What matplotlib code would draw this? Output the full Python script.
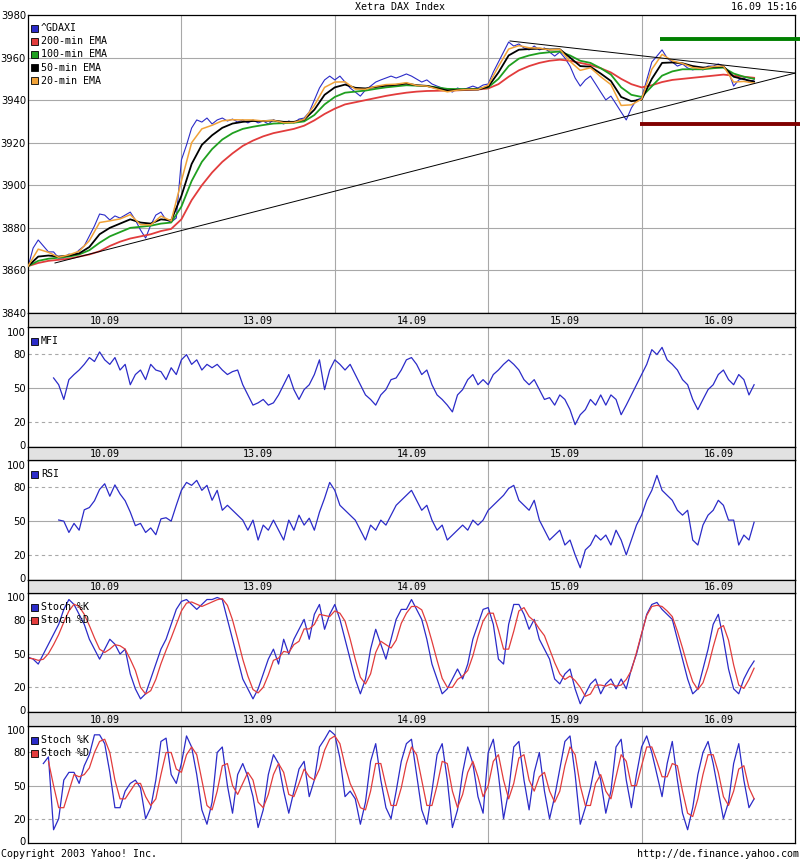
import numpy as np
import matplotlib.pyplot as plt
from matplotlib.patches import Rectangle

nan = np.nan

# —— sessions and sampling
days = ['10.09', '13.09', '14.09', '15.09', '16.09']
PER_DAY = 30        # price / oscillator samples per session
EMA_PER_DAY = 15    # EMA samples per session

# —— ^GDAXI (30 samples per session)
price = [
    3861.6, 3870.5, 3874.3, 3871.5, 3868.7, 3868.7, 3865.8, 3865.8, 3867.7, 3867.2,
    3869.6, 3871.5, 3876.2, 3880.9, 3886.5, 3886.0, 3883.7, 3885.6, 3884.6, 3886.0,
    3887.4, 3883.7, 3879.0, 3875.2, 3881.3, 3886.0, 3887.4, 3883.7, 3882.7, 3884.6,
    3911.9, 3918.9, 3926.9, 3930.7, 3929.7, 3931.6, 3928.8, 3930.7, 3931.6, 3930.2,
    3931.1, 3929.7, 3930.7, 3929.3, 3930.7, 3929.3, 3930.2, 3928.8, 3930.7, 3929.7,
    3928.8, 3930.2, 3929.3, 3931.1, 3931.6, 3934.4, 3940.1, 3945.7, 3949.5, 3951.3,
    3949.5, 3951.3, 3948.5, 3945.7, 3943.8, 3941.9, 3944.8, 3946.6, 3948.5, 3949.5,
    3950.4, 3951.3, 3950.4, 3951.3, 3952.3, 3951.3, 3949.9, 3948.5, 3949.5, 3947.6,
    3946.6, 3945.7, 3944.8, 3943.8, 3945.7, 3944.8, 3945.7, 3946.6, 3945.7, 3947.1,
    3947.6, 3953.2, 3957.9, 3962.6, 3967.3, 3965.4, 3966.4, 3964.5, 3963.6, 3965.4,
    3963.6, 3964.5, 3962.6, 3960.7, 3962.6, 3959.8, 3956.0, 3950.4, 3946.6, 3949.5,
    3951.3, 3947.6, 3943.8, 3940.1, 3941.9, 3938.2, 3934.4, 3930.7, 3936.3, 3940.1,
    3941.0, 3949.5, 3957.9, 3960.7, 3963.6, 3959.8, 3957.9, 3956.0, 3957.0, 3955.1,
    3954.2, 3955.1, 3954.2, 3956.0, 3956.0, 3957.0, 3956.0, 3953.2, 3946.6, 3949.5,
    3950.4, 3948.5, 3949.5,
]

# —— EMAs (15 samples per session)
ema200 = [
    3862, 3863.5, 3864.5, 3865, 3865.5, 3866.5, 3867.5, 3869, 3871.5, 3873.5,
    3875, 3876, 3877, 3878.5, 3879.5, 3884, 3893, 3900, 3906, 3911,
    3915, 3918.5, 3921, 3923, 3924.5, 3925.5, 3926.5, 3928, 3930.5, 3933.5,
    3936, 3938, 3939, 3940, 3941, 3942, 3942.8, 3943.5, 3944, 3944.3,
    3944.4, 3944.5, 3944.6, 3944.8, 3945, 3945.5, 3947.5, 3951, 3954, 3956,
    3957.5, 3958.5, 3959, 3958.5, 3957.5, 3956.5, 3955, 3953, 3950, 3947.5,
    3946, 3947, 3948.5, 3949.5, 3950, 3950.5, 3951, 3951.5, 3952, 3951.5,
    3951, 3950.5,
]
ema100 = [
    3862, 3864.5, 3865.5, 3866, 3866.5, 3867.5, 3869.5, 3873, 3876, 3878,
    3880, 3880.5, 3881, 3882, 3882.5, 3890, 3902, 3911, 3917, 3921.5,
    3924.5, 3926.5, 3927.5, 3928.3, 3929, 3929.2, 3929.4, 3930, 3933, 3938,
    3941.5, 3943.5, 3944, 3944.5, 3945.3, 3946, 3946.5, 3947, 3946.8, 3946.6,
    3946, 3945.3, 3945.2, 3945.2, 3945.3, 3946, 3950, 3956, 3959.5, 3961,
    3962, 3962.5, 3962.8, 3961, 3958.5, 3957.5, 3955, 3952, 3946, 3942.5,
    3941.5, 3946.5, 3951.5, 3953.5, 3954.5, 3954.5, 3954.5, 3955, 3955.3, 3952.5,
    3951, 3950,
]
ema50 = [
    3862, 3866.5, 3867, 3866.5, 3867, 3868, 3871, 3877, 3880, 3882,
    3884, 3882.5, 3882, 3884, 3883.5, 3895, 3910, 3919, 3923.5, 3927,
    3929, 3929.8, 3930.2, 3930.2, 3930.4, 3929.8, 3929.8, 3930.8, 3935.5, 3942.5,
    3946, 3947.3, 3945.8, 3945.5, 3946.2, 3946.8, 3947.2, 3947.8, 3947, 3946.7,
    3945.6, 3944.5, 3944.8, 3945, 3945, 3946.3, 3953, 3961, 3963.7, 3964,
    3964.2, 3963.8, 3963.9, 3960, 3956, 3955.7, 3952.5, 3949, 3941.5, 3939.5,
    3940.2, 3950, 3957.5, 3957.7, 3957.3, 3956, 3955.3, 3955.6, 3955.8, 3951,
    3949.8, 3948.7,
]
ema20 = [
    3862, 3870, 3868.5, 3866.2, 3867.3, 3869, 3874, 3882.5, 3883.3, 3884.2,
    3886.2, 3881.5, 3881.4, 3885.5, 3883.3, 3902, 3920, 3926.5, 3928.2, 3930.3,
    3930.8, 3930.7, 3930.7, 3930.2, 3930.5, 3929.4, 3929.5, 3931, 3937.5, 3946,
    3948.5, 3948.6, 3945.2, 3945.1, 3946.5, 3947.3, 3947.5, 3948.2, 3946.9, 3946.6,
    3945.2, 3943.9, 3944.7, 3945, 3945, 3947, 3955.8, 3964, 3965.6, 3964.6,
    3964.4, 3963.6, 3963.9, 3958.2, 3954, 3955.2, 3951, 3947.3, 3937.5, 3937.8,
    3940.5, 3954.5, 3961.5, 3958.5, 3957.2, 3955.3, 3954.8, 3955.8, 3956, 3948.5,
    3948.8, 3948,
]

# —— support / resistance and triangle (session units)
resistance = 3968.7
support = 3928.8
tri_lower = ([0.176, 5.0], [3863.5, 3952.7])
tri_upper = ([3.142, 5.0], [3967.8, 3952.7])

# —— oscillators (30 samples per session)
mfi = [
    nan, nan, nan, nan, nan, 59, 53, 40, 57.5, 62, 66, 71, 77, 73.5, 82,
    75, 71, 77, 66, 71, 53, 62, 66, 57.5, 71, 66, 64.6, 57.5, 68, 62,
    75, 79.6, 71, 75, 66, 71, 68, 71, 66, 62, 64.6, 66, 53, 44, 35,
    37, 40, 35, 37, 44, 53, 62, 48.7, 40, 48.7, 53, 62, 75, 48.7, 66,
    75, 71, 66, 71, 62, 53, 44, 40, 35, 44, 48.7, 57.5, 59, 66, 75,
    77, 71, 62, 66, 53, 44, 40, 35, 29, 44, 48.7, 57.5, 62, 53, 57.5,
    53, 62, 66, 71, 75, 71, 66, 57.5, 53, 57.5, 48.7, 40, 41.6, 35, 44,
    40, 31, 17.7, 26.5, 31, 40, 35, 44, 35, 44, 40, 26.5, 35, 44, 53,
    62, 71, 84, 79.6, 86, 75, 71, 66, 57.5, 53, 40, 31, 40, 48.7, 53,
    62, 66, 57.5, 53, 62, 57.5, 44, 53,
]
rsi = [
    nan, nan, nan, nan, nan, nan, 51, 50, 40, 48, 42, 60, 62, 68, 78,
    83, 72, 82, 74, 68, 58, 46, 48, 40, 44, 38, 52, 53, 50, 64,
    77.2, 84.2, 81.6, 86, 77.2, 81.6, 68.4, 77.2, 59.6, 64, 59.6, 55.3, 50.9, 42, 50.9,
    33.3, 46.5, 42, 50.9, 42, 33.3, 50.9, 42, 55.3, 46.5, 52.6, 42, 57.9, 70.2, 84.2,
    77.2, 64, 59.6, 55.3, 50.9, 42, 33.3, 46.5, 42, 50.9, 46.5, 55.3, 64, 68.4, 72.8,
    77.2, 68.4, 59.6, 64, 50.9, 42, 46.5, 33.3, 37.7, 42, 46.5, 42, 50.9, 46.5, 50.9,
    59.6, 64, 68.4, 72.8, 78.9, 81.6, 68.4, 64, 59.6, 68.4, 50.9, 42, 33.3, 37.7, 42,
    28.9, 33.3, 20.2, 8.8, 24.6, 28.9, 37.7, 33.3, 37.7, 28.9, 42, 33.3, 20.2, 33.3, 46.5,
    55.3, 68.4, 77.2, 90.4, 77.2, 72.8, 68.4, 59.6, 55.3, 59.6, 33.3, 28.9, 46.5, 55.3, 59.6,
    68.4, 64, 50.9, 50.9, 28.9, 37.7, 33.3, 49,
]
slow_k = [
    46.9, 45.1, 40.7, 49.6, 58.4, 67.3, 76.1, 89.4, 98.2, 93.8, 85, 76.1, 62.8, 54, 45.1,
    54, 62.8, 58.4, 49.6, 54, 31.9, 18.6, 9.7, 14.2, 27.4, 40.7, 54, 62.8, 76.1, 89.4,
    96.5, 98.2, 93.8, 89.4, 93.8, 98.2, 98.2, 100, 98.2, 80.5, 62.8, 45.1, 27.4, 18.6, 9.7,
    18.6, 31.9, 45.1, 54, 40.7, 62.8, 49.6, 62.8, 71.7, 80.5, 62.8, 85, 93.8, 71.7, 85,
    93.8, 80.5, 62.8, 45.1, 27.4, 14.2, 27.4, 54, 71.7, 58.4, 45.1, 62.8, 80.5, 89.4, 89.4,
    98.2, 89.4, 80.5, 62.8, 40.7, 27.4, 14.2, 18.6, 27.4, 36.3, 27.4, 40.7, 62.8, 76.1, 89.4,
    91, 76.1, 45.1, 40.7, 76.1, 93.8, 93.8, 85, 71.7, 80.5, 62.8, 54, 45.1, 27.4, 23,
    31.9, 36.3, 18.6, 5.3, 14.2, 23, 27.4, 14.2, 23, 27.4, 18.6, 27.4, 18.6, 36.3, 49.6,
    67.3, 85, 93.8, 95.6, 89.4, 85, 80.5, 62.8, 45.1, 27.4, 14.2, 18.6, 36.3, 54, 76.1,
    85, 62.8, 36.3, 18.6, 14.2, 27.4, 36.3, 43.4,
]
slow_d = [
    46, 45.5, 44, 45, 50, 58, 67, 78, 88, 94, 92, 85, 75, 64, 54,
    51, 54, 58, 57, 54, 45, 35, 20, 14, 17, 27, 41, 53, 64, 76,
    88, 95, 96, 94, 92, 94, 96, 98, 99, 93, 80, 63, 45, 30, 18,
    15, 20, 31, 44, 46, 52, 51, 58, 61, 72, 72, 76, 85, 84, 83,
    88, 86, 79, 63, 45, 29, 23, 32, 51, 61, 58, 55, 62, 77, 86,
    92, 92, 89, 77, 61, 44, 28, 20, 20, 27, 30, 35, 48, 65, 79,
    86, 86, 71, 54, 54, 70, 88, 91, 83, 79, 72, 66, 54, 42, 32,
    27, 30, 26, 20, 12, 14, 22, 22, 21, 23, 21, 22, 27, 35, 51,
    68, 84, 92, 93, 92, 88, 83, 70, 55, 39, 25, 18, 24, 38, 56,
    72, 75, 62, 40, 22, 19, 27, 37,
]
fast_k = [
    nan, nan, nan, 70, 76, 10, 20, 55, 62, 62, 52, 68, 78, 96, 96,
    88, 62, 30, 30, 45, 52, 55, 48, 20, 30, 55, 90, 93, 60, 52,
    70, 95, 85, 60, 28, 15, 35, 80, 85, 50, 25, 60, 70, 58, 40,
    12, 28, 60, 78, 70, 45, 25, 45, 65, 72, 40, 55, 85, 92, 100,
    96, 75, 40, 45, 38, 15, 35, 72, 88, 55, 30, 20, 45, 72, 88,
    92, 60, 28, 15, 45, 78, 88, 55, 12, 28, 62, 85, 70, 40, 25,
    80, 92, 60, 20, 45, 85, 90, 55, 28, 62, 80, 45, 20, 40, 65,
    90, 95, 60, 15, 30, 48, 72, 55, 25, 45, 85, 92, 55, 30, 60,
    85, 95, 80, 60, 40, 70, 90, 55, 25, 10, 30, 60, 80, 90, 70,
    45, 20, 35, 70, 88, 55, 30, 38,
]
fast_d = [
    nan, nan, nan, nan, 72, 50, 30, 30, 45, 60, 58, 60, 66, 80, 90,
    92, 80, 55, 38, 38, 45, 52, 52, 40, 32, 38, 60, 80, 80, 65,
    62, 78, 85, 78, 55, 32, 28, 45, 68, 70, 50, 42, 52, 62, 55,
    35, 30, 42, 60, 70, 62, 42, 40, 52, 65, 58, 55, 65, 82, 92,
    95, 88, 68, 52, 42, 30, 28, 45, 70, 70, 50, 32, 32, 48, 70,
    85, 78, 55, 32, 32, 50, 72, 70, 45, 30, 42, 62, 72, 58, 40,
    50, 72, 78, 55, 38, 52, 75, 78, 55, 45, 58, 62, 45, 35, 45,
    68, 85, 78, 50, 32, 32, 52, 60, 45, 38, 58, 78, 72, 50, 50,
    68, 85, 85, 72, 58, 58, 70, 68, 45, 25, 22, 38, 60, 78, 78,
    62, 40, 32, 45, 65, 68, 48, 38,
]

# —— colours
BLUE = '#2b2bc8'
RED = '#e23c3c'
GREEN = '#1f9f1f'
ORANGE = '#f0a238'
GRID = '#a8a8a8'
MONO = 'DejaVu Sans Mono'

W, H = 800, 861
fig = plt.figure(figsize=(W / 100, H / 100), dpi=100)
fig.patch.set_facecolor('white')


def axes_px(top, bottom):
    return fig.add_axes([28 / W, 1 - bottom / H, 767 / W, (bottom - top) / H])


def style(ax):
    ax.set_xlim(0, len(days))
    ax.set_xticks([])
    for s in ax.spines.values():
        s.set_linewidth(0.9)
        s.set_color('black')
    ax.tick_params(axis='y', length=0, pad=1.5, labelsize=7.2)
    for d in range(1, len(days)):
        ax.axvline(d, color=GRID, lw=0.8, zorder=0)


def legend(ax, items, first_px, step_px):
    bb = ax.get_position()
    hpx, wpx = bb.height * H, bb.width * W
    for i, (label, color) in enumerate(items):
        yc = 1 - (first_px + i * step_px) / hpx
        ax.add_patch(Rectangle((3 / wpx, yc - 3.5 / hpx), 7 / wpx, 7 / hpx,
                               transform=ax.transAxes, facecolor=color,
                               edgecolor='black', lw=0.6, zorder=6))
        ax.text(13 / wpx, yc, label, transform=ax.transAxes, va='center',
                ha='left', fontsize=7.2, family=MONO, zorder=6)


def date_band(top, bottom):
    ax = axes_px(top, bottom)
    ax.set_facecolor('#e2e2e2')
    ax.set_xlim(0, len(days))
    ax.set_ylim(0, 1)
    ax.set_xticks([])
    ax.set_yticks([])
    for s in ax.spines.values():
        s.set_linewidth(0.9)
    for i, d in enumerate(days):
        ax.text(i + 0.5, 0.45, d, ha='center', va='center', fontsize=7.2, family=MONO)


def t_axis(n, per_day):
    return np.arange(n) / per_day


# —— main price panel
ax = axes_px(15, 313)
style(ax)
ax.set_ylim(3840, 3980)
ax.set_yticks(range(3840, 3981, 20))
for v in range(3860, 3980, 20):
    ax.axhline(v, color=GRID, lw=0.8, zorder=0)

ax.plot(t_axis(len(price), PER_DAY), price, color=BLUE, lw=0.8, zorder=2)
for series, col, lw in [(ema200, RED, 1.3), (ema100, GREEN, 1.3),
                        (ema50, 'black', 1.3), (ema20, ORANGE, 1.1)]:
    ax.plot(t_axis(len(series), EMA_PER_DAY), series, color=col, lw=lw, zorder=3)

ax.plot(*tri_lower, color='black', lw=0.7, zorder=4)
ax.plot(*tri_upper, color='black', lw=0.7, zorder=4)
ax.hlines(resistance, 4.12, 5.04, color='#008000', lw=2.8, zorder=5, clip_on=False)
ax.hlines(support, 3.99, 5.04, color='#800000', lw=2.8, zorder=5, clip_on=False)

legend(ax, [('^GDAXI', BLUE), ('200-min EMA', RED), ('100-min EMA', GREEN),
            ('50-min EMA', 'black'), ('20-min EMA', ORANGE)], 13, 13.2)

# —— oscillator panels
panels = [
    ((327, 447), [(mfi, BLUE)], [('MFI', BLUE)]),
    ((460, 580), [(rsi, BLUE)], [('RSI', BLUE)]),
    ((593, 712), [(slow_k, BLUE), (slow_d, RED)], [('Stoch %K', BLUE), ('Stoch %D', RED)]),
    ((726, 843), [(fast_k, BLUE), (fast_d, RED)], [('Stoch %K', BLUE), ('Stoch %D', RED)]),
]
for (top, bottom), lines, items in panels:
    ax = axes_px(top, bottom)
    style(ax)
    ax.set_ylim(-2, 104)
    ax.set_yticks([0, 20, 50, 80, 100])
    ax.axhline(50, color=GRID, lw=0.8, zorder=0)
    for v in (20, 80):
        ax.axhline(v, color=GRID, lw=0.8, ls=(0, (3, 3)), zorder=0)
    for series, col in lines:
        ax.plot(t_axis(len(series), PER_DAY), series, color=col, lw=0.9)
    legend(ax, items, 14, 13)

for top, bottom in [(313, 327), (447, 460), (580, 593), (712, 726)]:
    date_band(top, bottom)

# —— header / footer
fig.text(0.5, 1 - 7 / H, 'Xetra DAX Index', ha='center', va='center', fontsize=7.2, family=MONO)
fig.text(797 / W, 1 - 7 / H, '16.09 15:16', ha='right', va='center', fontsize=7.2, family=MONO)
fig.text(1 / W, 1 - 854 / H, 'Copyright 2003 Yahoo! Inc.', ha='left', va='center', fontsize=7.2, family=MONO)
fig.text(799 / W, 1 - 854 / H, 'http://de.finance.yahoo.com', ha='right', va='center', fontsize=7.2, family=MONO)

fig.savefig('out.png', dpi=100)
